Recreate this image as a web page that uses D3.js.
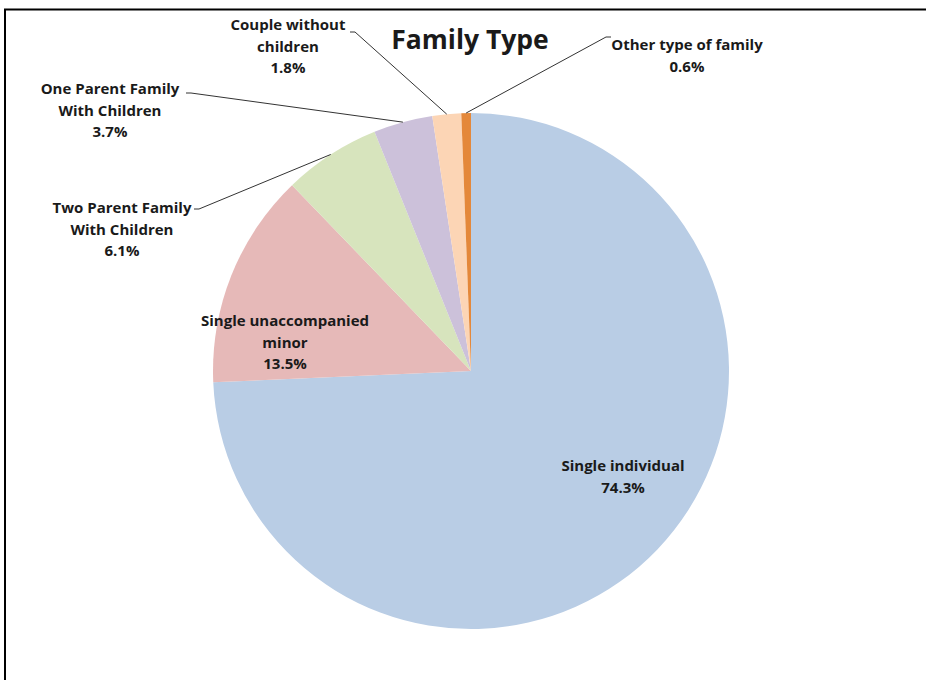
<!DOCTYPE html>
<html>
<head>
<meta charset="utf-8">
<script src="https://cdn.jsdelivr.net/npm/d3@7"></script>
<style>
  body { margin: 0; background: #fff; }
  svg text { font-family: 'Open Sans', 'Liberation Sans', sans-serif; font-weight: bold; fill: #1a1a1a; }
</style>
</head>
<body>
<div id="chart"></div>
<script>
const categories = ['Single individual', 'Single unaccompanied minor', 'Two Parent Family With Children',
    'One Parent Family With Children', 'Couple without children', 'Other type of family']
const values = [74.3, 13.5, 6.1, 3.7, 1.8, 0.6]
const labelLines = [
    ['Single individual'],
    ['Single unaccompanied', 'minor'],
    ['Two Parent Family', 'With Children'],
    ['One Parent Family', 'With Children'],
    ['Couple without', 'children'],
    ['Other type of family']
]
const colors = ['#b9cde5', '#e6b9b8', '#d7e4bd', '#ccc1da', '#fcd5b5', '#e4883a']

const dms = {
    width: 926,
    height: 680,
    cx: 471,
    cy: 371,
    r: 258
}

// label block centres + leader anchor (null = inside slice, no leader)
const labelPos = [
    { x: 623, y: 466, anchor: null },
    { x: 285, y: 321, anchor: null },
    { x: 122, y: 208, anchor: [199, 209] },
    { x: 110, y: 89, anchor: [191, 93] },
    { x: 288, y: 25, anchor: [355, 32] },
    { x: 687, y: 45, anchor: [606, 37] }
]
const lineH = 21.5

const svg = d3.select('#chart').append('svg')
    .attr('width', dms.width)
    .attr('height', dms.height)

svg.append('rect')
    .attr('x', 5)
    .attr('y', 9.5)
    .attr('width', dms.width + 10)
    .attr('height', dms.height + 10)
    .attr('fill', 'white')
    .attr('stroke', '#000')
    .attr('stroke-width', 2)

const data = categories.map((c, i) => ({ name: c, value: values[i], i: i }))

const pie = d3.pie()
    .sort(null)
    .value(d => d.value)

const arcs = pie(data)

const arc = d3.arc()
    .innerRadius(0)
    .outerRadius(dms.r)

const content = svg.append('g')
    .attr('transform', `translate(${dms.cx},${dms.cy})`)

content.selectAll('path')
    .data(arcs)
    .join('path')
    .attr('d', arc)
    .attr('fill', d => colors[d.data.i])

// leader lines
const leaders = svg.append('g')
arcs.forEach(a => {
    const p = labelPos[a.data.i]
    if (!p.anchor) return
    const mid = (a.startAngle + a.endAngle) / 2
    const ex = dms.cx + dms.r * Math.sin(mid)
    const ey = dms.cy - dms.r * Math.cos(mid)
    const tick = p.anchor[0] < dms.cx ? -5 : 5
    leaders.append('polyline')
        .attr('points', `${p.anchor[0] + tick},${p.anchor[1]} ${p.anchor[0]},${p.anchor[1]} ${ex},${ey}`)
        .attr('fill', 'none')
        .attr('stroke', '#333')
        .attr('stroke-width', 1)
})

// labels
const labels = svg.append('g')
arcs.forEach(a => {
    const p = labelPos[a.data.i]
    const lines = labelLines[a.data.i].concat([d3.format('.1f')(a.data.value) + '%'])
    const t = labels.append('text')
        .attr('text-anchor', 'middle')
        .style('font-size', '15px')
    lines.forEach((l, k) => {
        t.append('tspan')
            .attr('x', p.x)
            .attr('y', p.y + k * lineH)
            .attr('dy', '0.35em')
            .text(l)
    })
})

svg.append('text')
    .attr('x', 470)
    .attr('y', 40)
    .attr('dy', '0.35em')
    .attr('text-anchor', 'middle')
    .style('font-size', '26.5px')
    .text('Family Type')
</script>
</body>
</html>
